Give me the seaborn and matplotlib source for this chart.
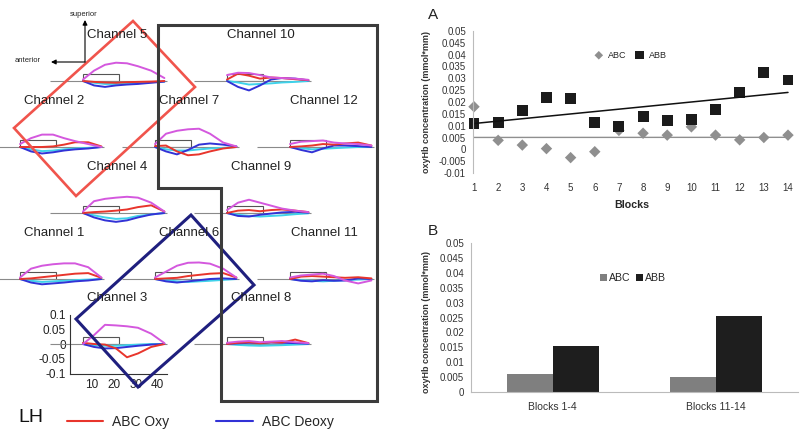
import numpy as np
import pandas as pd
import matplotlib.pyplot as plt
import seaborn as sns
from matplotlib.patches import Rectangle, Polygon
from matplotlib.lines import Line2D
from matplotlib.ticker import MultipleLocator, FuncFormatter

sns.set_theme(style="white")
plt.rcParams['font.family'] = ['Liberation Sans', 'DejaVu Sans']

# ---- panel A: per-block oxyHb values
blocks = list(range(1, 15))
abc_blocks = [0.018, 0.0038, 0.0018, 0.0003, -0.0035, -0.001, 0.008, 0.0068,
              0.006, 0.0095, 0.006, 0.004, 0.005, 0.006]
abb_blocks = [0.011, 0.0115, 0.0165, 0.022, 0.0215, 0.0115, 0.0098, 0.0138,
              0.012, 0.0125, 0.017, 0.024, 0.0323, 0.0293]

# ---- panel B: averaged periods
periods = ["Blocks 1-4", "Blocks 11-14"]
abc_period = [0.0059, 0.0051]
abb_period = [0.0154, 0.0256]

# ---- left: channel time courses (s, mmol*mm)
t = [6, 11, 16, 21, 26, 31, 37, 43]
ch1 = {"ABC Oxy": [0, 0.002, 0.006, 0.01, 0.014, 0.018, 0.02, 0.004],
       "ABC Deoxy": [0, -0.012, -0.018, -0.015, -0.012, -0.008, -0.005, 0],
       "ABB Oxy": [0.005, 0.035, 0.045, 0.05, 0.053, 0.053, 0.04, 0.005],
       "ABB Deoxy": [0, -0.006, -0.01, -0.008, -0.006, -0.004, -0.002, 0]}
ch2 = {"ABC Oxy": [0, 0, 0, 0.002, 0.008, 0.016, 0.016, 0.002],
       "ABC Deoxy": [0, -0.015, -0.022, -0.018, -0.012, -0.008, -0.005, 0],
       "ABB Oxy": [0.01, 0.03, 0.042, 0.042, 0.03, 0.02, 0.01, 0],
       "ABB Deoxy": [0, -0.008, -0.014, -0.012, -0.008, -0.005, -0.003, 0]}
ch3 = {"ABC Oxy": [0.004, 0, -0.002, -0.015, -0.045, -0.032, -0.01, 0],
       "ABC Deoxy": [0, -0.01, -0.015, -0.014, -0.01, -0.006, -0.002, 0],
       "ABB Oxy": [0, 0.03, 0.065, 0.063, 0.06, 0.055, 0.035, 0.003],
       "ABB Deoxy": [0, -0.004, -0.006, -0.006, -0.004, -0.002, 0, 0]}
ch4 = {"ABC Oxy": [0, 0.003, 0.005, 0.008, 0.012, 0.02, 0.026, 0.005],
       "ABC Deoxy": [0, -0.015, -0.025, -0.03, -0.025, -0.015, -0.005, 0],
       "ABB Oxy": [0.005, 0.04, 0.048, 0.052, 0.055, 0.052, 0.035, 0.005],
       "ABB Deoxy": [0, -0.008, -0.015, -0.02, -0.018, -0.01, -0.005, 0]}
ch5 = {"ABC Oxy": [0, -0.003, -0.005, -0.006, -0.004, -0.003, -0.002, 0],
       "ABC Deoxy": [0, -0.015, -0.02, -0.015, -0.012, -0.01, -0.006, -0.002],
       "ABB Oxy": [0.005, 0.035, 0.055, 0.062, 0.06, 0.05, 0.035, 0.01],
       "ABB Deoxy": [0, -0.006, -0.01, -0.01, -0.008, -0.006, -0.004, -0.002]}
ch6 = {"ABC Oxy": [0, 0.002, 0.004, 0.01, 0.014, 0.018, 0.02, 0.005],
       "ABC Deoxy": [0, -0.008, -0.012, -0.008, -0.004, 0, 0.002, 0],
       "ABB Oxy": [0.005, 0.025, 0.045, 0.055, 0.056, 0.052, 0.035, 0.005],
       "ABB Deoxy": [0, -0.004, -0.008, -0.01, -0.008, -0.006, -0.003, 0]}
ch7 = {"ABC Oxy": [0.003, 0.005, -0.015, -0.028, -0.025, -0.015, -0.005, 0],
       "ABC Deoxy": [0, -0.015, -0.025, -0.01, 0.008, 0.012, 0.008, 0.002],
       "ABB Oxy": [0.01, 0.045, 0.055, 0.06, 0.062, 0.045, 0.015, 0.002],
       "ABB Deoxy": [0, -0.008, -0.012, -0.012, -0.008, -0.005, -0.003, 0]}
ch8 = {"ABC Oxy": [0, 0.004, 0.006, 0.003, 0.006, 0.005, 0.015, 0.003],
       "ABC Deoxy": [0, 0.002, 0.004, 0.003, 0.005, 0.004, 0.003, 0.001],
       "ABB Oxy": [0.004, 0.008, 0.01, 0.006, 0.008, 0.01, 0.006, 0.003],
       "ABB Deoxy": [0, -0.003, -0.005, -0.006, -0.005, -0.004, -0.002, 0]}
ch9 = {"ABC Oxy": [0, 0.008, 0.01, 0.006, 0.01, 0.012, 0.008, 0.003],
       "ABC Deoxy": [0, -0.01, -0.012, -0.006, -0.002, 0.002, 0.004, 0.001],
       "ABB Oxy": [0.01, 0.035, 0.045, 0.035, 0.025, 0.015, 0.008, 0.003],
       "ABB Deoxy": [0, -0.006, -0.01, -0.012, -0.01, -0.008, -0.004, -0.001]}
ch10 = {"ABC Oxy": [0.005, 0.025, 0.018, 0.008, 0.012, 0.01, 0.006, 0.003],
        "ABC Deoxy": [0, -0.02, -0.032, -0.015, 0.005, 0.01, 0.008, 0.002],
        "ABB Oxy": [0.02, 0.028, 0.027, 0.02, 0.012, 0.01, 0.008, 0.004],
        "ABB Deoxy": [0, -0.005, -0.012, -0.01, -0.008, -0.005, -0.003, 0]}
ch11 = {"ABC Oxy": [0, 0.008, 0.01, 0.008, 0.006, 0.004, 0.006, 0.002],
        "ABC Deoxy": [0, -0.006, -0.008, -0.004, -0.006, -0.005, 0.002, 0],
        "ABB Oxy": [0.005, 0.012, 0.015, 0.018, 0.01, -0.005, -0.015, -0.005],
        "ABB Deoxy": [0, -0.004, -0.006, -0.008, -0.006, -0.004, -0.002, 0]}
ch12 = {"ABC Oxy": [0, 0.002, 0.005, 0.01, 0.008, 0.012, 0.015, 0.005],
        "ABC Deoxy": [0, -0.01, -0.018, -0.005, 0.005, 0.005, 0.003, 0],
        "ABB Oxy": [0.01, 0.018, 0.02, 0.022, 0.015, 0.012, 0.01, 0.005],
        "ABB Deoxy": [0, -0.004, -0.008, -0.006, -0.004, -0.002, 0, 0]}
channels = {1: ch1, 2: ch2, 3: ch3, 4: ch4, 5: ch5, 6: ch6,
            7: ch7, 8: ch8, 9: ch9, 10: ch10, 11: ch11, 12: ch12}

series_order = ["ABB Deoxy", "ABC Deoxy", "ABC Oxy", "ABB Oxy"]
series_colors = {"ABC Oxy": "#e8352c", "ABC Deoxy": "#3232d6",
                 "ABB Oxy": "#d458de", "ABB Deoxy": "#3fd2ea"}

# layout (pixels): stimulus box left edge and baseline of each channel plot
W, H = 800, 440
chan_pos = {5: (83, 81), 10: (227, 81),
            2: (20, 147), 7: (155, 147), 12: (290, 147),
            4: (83, 213), 9: (227, 213),
            1: (20, 279), 6: (155, 279), 11: (290, 279),
            3: (83, 344), 8: (227, 344)}


def px_rect(left, top, width, height):
    return [left / W, 1 - (top + height) / H, width / W, height / H]


fig = plt.figure(figsize=(8, 4.4), dpi=100)

# ---------- channel mini plots
for ch, (bx, by) in chan_pos.items():
    ax = fig.add_axes(px_rect(bx - 33, by - 29.5, 121, 59))
    long = pd.DataFrame([(s, x, v) for s in series_order
                         for x, v in zip(t, channels[ch][s])],
                        columns=["series", "t", "v"])
    ax.hlines(0, -9, 44, color="#8a8a8a", lw=0.8)
    ax.add_patch(Rectangle((6, 0), 16.5, 0.024, fill=False,
                           edgecolor="#555555", lw=0.8))
    sns.lineplot(data=long, x="t", y="v", hue="series", hue_order=series_order,
                 palette=series_colors, legend=False, lw=1.4, ax=ax)
    ax.set_xlim(-9, 46)
    ax.set_ylim(-0.1, 0.1)
    ax.set_xlabel("")
    ax.set_ylabel("")
    ax.patch.set_alpha(0)
    if ch == 3:
        for s in ["top", "right"]:
            ax.spines[s].set_visible(False)
        ax.spines["left"].set_position(("data", 0))
        ax.spines["bottom"].set_bounds(0, 44)
        for s in ["left", "bottom"]:
            ax.spines[s].set_color("#333333")
            ax.spines[s].set_linewidth(0.8)
        ax.set_xticks([10, 20, 30, 40])
        ax.set_yticks([-0.1, -0.05, 0, 0.05, 0.1])
        ax.set_yticklabels(["-0.1", "-0.05", "0", "0.05", "0.1"])
        ax.tick_params(length=0, labelsize=8.5, colors="#222222")
        ax.tick_params(axis="x", pad=4)
        ax.tick_params(axis="y", pad=3)
    else:
        ax.axis("off")

# ---------- panel A
axA = fig.add_axes(px_rect(473, 31, 317, 142))
sns.regplot(x=blocks, y=abc_blocks, scatter=False, ci=None, color="#8f8f8f",
            line_kws={"lw": 1.0}, ax=axA)
sns.regplot(x=blocks, y=abb_blocks, scatter=False, ci=None, color="#111111",
            line_kws={"lw": 1.1}, ax=axA)
sns.scatterplot(x=blocks, y=abc_blocks, marker="D", color="#8f8f8f", s=34,
                edgecolor="none", label="ABC", clip_on=False, ax=axA)
sns.scatterplot(x=blocks, y=abb_blocks, marker="s", color="#1b1b1b", s=62,
                edgecolor="none", label="ABB", clip_on=False, ax=axA)
axA.set_xlim(0.9586, 14.083)
axA.set_ylim(-0.01, 0.05)
axA.set_xticks(blocks)
axA.yaxis.set_major_locator(MultipleLocator(0.005))
axA.yaxis.set_major_formatter(FuncFormatter(lambda v, p: f"{round(v, 4) + 0.0:g}"))
axA.tick_params(length=0, labelsize=7, colors="#333333")
axA.tick_params(axis="y", pad=5)
axA.tick_params(axis="x", pad=7)
for s in ["top", "right", "bottom"]:
    axA.spines[s].set_visible(False)
axA.spines["left"].set_color("#bbbbbb")
axA.spines["left"].set_linewidth(0.8)
axA.set_xlabel("Blocks", fontsize=7.7, fontweight="bold", labelpad=5)
axA.set_ylabel("oxyHb concentration (mmol*mm)", fontsize=6.5, fontweight="bold",
               color="#333333")
axA.yaxis.set_label_coords(-0.132, 0.5)
axA.legend(loc="center", bbox_to_anchor=(0.49, 0.83), ncol=2, frameon=False,
           fontsize=6.5, handletextpad=0.05, columnspacing=0.4, markerscale=0.75,
           borderpad=0)

# ---------- panel B
df_b = pd.DataFrame({"period": periods * 2,
                     "cond": ["ABC"] * 2 + ["ABB"] * 2,
                     "value": abc_period + abb_period})
axB = fig.add_axes(px_rect(471, 243, 327, 149))
sns.barplot(data=df_b, x="period", y="value", hue="cond",
            palette={"ABC": "#7f7f7f", "ABB": "#1e1e1e"}, width=0.56,
            saturation=1, linewidth=0, ax=axB)
axB.set_xlim(-0.5, 1.5)
axB.set_ylim(0, 0.05)
axB.yaxis.set_major_locator(MultipleLocator(0.005))
axB.yaxis.set_major_formatter(FuncFormatter(lambda v, p: f"{round(v, 4) + 0.0:g}"))
axB.tick_params(length=0, labelsize=7, colors="#333333")
axB.tick_params(axis="y", pad=5)
axB.tick_params(axis="x", pad=7, labelsize=7.5)
for s in ["top", "right"]:
    axB.spines[s].set_visible(False)
for s in ["left", "bottom"]:
    axB.spines[s].set_color("#bbbbbb")
    axB.spines[s].set_linewidth(0.8)
axB.set_xlabel("")
axB.set_ylabel("oxyHb concentration (mmol*mm)", fontsize=6.5, fontweight="bold",
               color="#333333")
axB.yaxis.set_label_coords(-0.122, 0.47)
axB.legend(loc="center", bbox_to_anchor=(0.495, 0.765), ncol=2, frameon=False,
           fontsize=7.6, handlelength=0.7, handleheight=0.7, handletextpad=0.15,
           columnspacing=0.5, borderpad=0)

# ---------- overlay: regions, labels, orientation, legend
ov = fig.add_axes([0, 0, 1, 1], zorder=10)
ov.set_xlim(0, W)
ov.set_ylim(H, 0)
ov.axis("off")
ov.patch.set_alpha(0)

ov.add_patch(Polygon([(133, 21), (195, 87), (76, 196), (14, 128)], closed=True,
                     fill=False, edgecolor="#f0544c", lw=1.9))
ov.add_patch(Polygon([(191, 215), (254, 285), (138, 387), (76, 319)], closed=True,
                     fill=False, edgecolor="#1f1f7e", lw=2.2))
ov.add_patch(Polygon([(158, 25), (377, 25), (377, 401), (221, 401), (221, 188),
                      (158, 188)], closed=True, fill=False,
                     edgecolor="#3c3c3c", lw=2.2, joinstyle="miter"))

for ch, (bx, by) in chan_pos.items():
    ov.text(bx + 34, by - 46, f"Channel {ch}", ha="center", va="center",
            fontsize=9.5, color="#222222")

arrow = dict(arrowstyle="-|>", lw=0.8, color="black", mutation_scale=7,
             shrinkA=0, shrinkB=0)
ov.annotate("", xy=(85, 20), xytext=(85, 62), arrowprops=arrow)
ov.annotate("", xy=(51, 62), xytext=(85, 62), arrowprops=arrow)
ov.text(84, 14, "superior", ha="center", va="center", fontsize=5.5)
ov.text(28, 61, "anterior", ha="center", va="center", fontsize=5.5)

ov.text(31, 417, "LH", ha="center", va="center", fontsize=14, color="#111111")
ov.text(433, 15, "A", ha="center", va="center", fontsize=11, color="#222222")
ov.text(433, 231, "B", ha="center", va="center", fontsize=11, color="#222222")

leg_handles = [Line2D([], [], color=series_colors["ABC Oxy"], lw=1.5),
               Line2D([], [], color=series_colors["ABC Deoxy"], lw=1.5)]
fig.legend(leg_handles, ["ABC Oxy", "ABC Deoxy"], loc="center left",
           bbox_to_anchor=(67 / W, 1 - 422 / H), ncol=2, frameon=False,
           fontsize=10, handlelength=2.6, handletextpad=0.65, columnspacing=3.4,
           borderpad=0, borderaxespad=0)

fig.savefig("out.png", dpi=100)
